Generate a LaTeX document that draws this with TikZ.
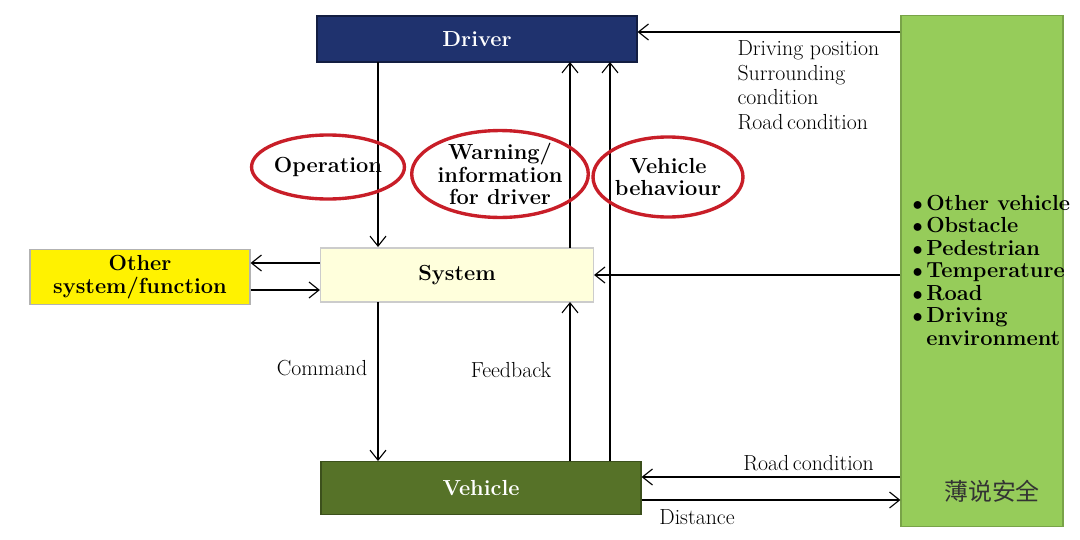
\documentclass[tikz,border=0pt]{standalone}
\usepackage{fontspec}
\newfontfamily\cjk{Noto Sans CJK SC}
\usetikzlibrary{shapes.geometric, arrows.meta}
\definecolor{drvblue}{RGB}{31,50,110}
\definecolor{vehgreen}{RGB}{86,114,40}
\definecolor{envgreen}{RGB}{150,204,90}
\definecolor{sysyellow}{RGB}{255,255,220}
\definecolor{ringred}{RGB}{200,30,40}
\newcommand{\bigtxt}{\fontsize{15.5}{16}\selectfont}
\begin{document}
\begin{tikzpicture}[x=0.025cm, y=-0.025cm, thick, >={Straight Barb[length=2.5mm,width=4mm]},
  block/.style = {draw, minimum height=1.2cm, font=\bigtxt\bfseries},
  ring/.style = {draw=ringred, line width=2.4pt, ellipse, font=\bigtxt\bfseries, align=center, inner sep=0pt},
  lbl/.style = {font=\fontsize{15.5}{17.5}\selectfont, align=left}]
\useasboundingbox (0,0) rectangle (1080,540);
\node[block, fill=drvblue, draw=drvblue!60!black, text=white, minimum width=8cm, minimum height=1.15cm] (driver) at (477,39) {Driver};
\node[block, fill=sysyellow, draw=gray!40, minimum width=6.825cm, minimum height=1.35cm] (system) at (457,275) {System};
\node[block, fill=vehgreen, draw=vehgreen!70!black, text=white, minimum width=8cm, minimum height=1.325cm] (vehicle) at (481,488) {Vehicle};
\node[block, fill=yellow, draw=gray!60, minimum width=5.5cm, minimum height=1.375cm, align=center, inner sep=1pt] (other) at (140,277) {Other\\system/function};
\node[draw=envgreen!80!black, fill=envgreen, minimum width=4.05cm, minimum height=12.775cm] (env) at (982,271) {};
\node[font=\bigtxt\bfseries, align=left, anchor=west, inner sep=0pt] (envlist) at (912,270) {$\bullet$\,Other vehicle\\$\bullet$\,Obstacle\\$\bullet$\,Pedestrian\\$\bullet$\,Temperature\\$\bullet$\,Road\\$\bullet$\,Driving\\\phantom{$\bullet$\,}environment};
% connectors
\coordinate (d1) at (378,62); \coordinate (s1) at (378,247);
\coordinate (d2) at (570,62); \coordinate (s2) at (570,248);
\coordinate (d3) at (610,62); \coordinate (v3) at (610,461);
\coordinate (s4) at (378,302); \coordinate (v4) at (378,461);
\coordinate (s5) at (570,302); \coordinate (v5) at (570,461);
\draw[->] (d1) -- (s1);
\draw[->] (s2) -- (d2);
\draw[->] (v3) -- (d3);
\draw[->] (s4) -- (v4);
\draw[->] (v5) -- (s5);
\draw[->] (env.west |- 0,32) -- (driver.east |- 0,32);
\draw[->] (env.west |- system) -- (system.east);
\draw[->] (system.west |- 0,263) -- (other.east |- 0,263);
\draw[->] (other.east |- 0,290) -- (system.west |- 0,290);
\draw[->] (env.west |- 0,477) -- (vehicle.east |- 0,477);
\draw[->] (vehicle.east |- 0,500) -- (env.west |- 0,500);
% labels
\node[lbl, anchor=north west, inner sep=0pt] (dpos) at (737,40) {Driving position\\Surrounding\\condition\\Road\,condition};
\node[lbl, anchor=south west, inner sep=2pt] (rc) at (740,474) {Road\,condition};
\node[lbl, anchor=north west, inner sep=2pt] (dist) at (656,506) {Distance};
\node[lbl] (cmd) at (322,368) {Command};
\node[lbl] (fb) at (511,370) {Feedback};
\node[ring, minimum width=3cm, minimum height=1.6cm] (op) at (328,167) {Operation};
\node[ring, minimum width=4cm, minimum height=2.1cm] (warn) at (500,174) {Warning/\\information\\for driver};
\node[ring, minimum width=3.1cm, minimum height=2cm] (beh) at (668,177) {Vehicle\\behaviour};
\node[font=\cjk\fontsize{17}{20}\selectfont, text=black!80] (wm) at (992,491) {薄说安全};
\end{tikzpicture}
\end{document}
